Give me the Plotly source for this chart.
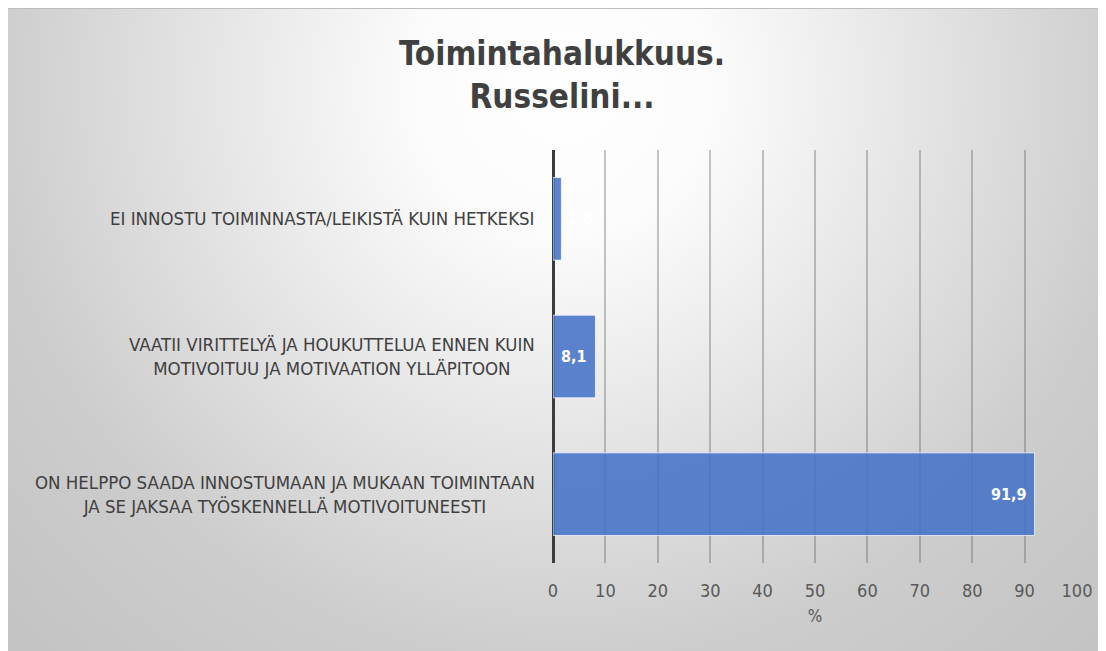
import plotly.graph_objects as go
import urllib.parse

categories = [
    "ON HELPPO SAADA INNOSTUMAAN JA MUKAAN TOIMINTAAN<br>JA SE JAKSAA TYÖSKENNELLÄ MOTIVOITUNEESTI",
    "VAATII VIRITTELYÄ JA HOUKUTTELUA ENNEN KUIN<br>MOTIVOITUU JA MOTIVAATION YLLÄPITOON",
    "EI INNOSTU TOIMINNASTA/LEIKISTÄ KUIN HETKEKSI",
]
values = [91.9, 8.1, 1.6]
value_labels = ["91,9", "8,1", "1,6"]
x_ticks = [0, 10, 20, 30, 40, 50, 60, 70, 80, 90, 100]
title_lines = ["Toimintahalukkuus.", "Russelini..."]
x_title = "%"

W, H = 1106, 651
ML, MR, MT, MB = 545, 37, 142, 96
PW = W - ML - MR
PH = H - MT - MB

FONT = "Liberation Sans Narrow, DejaVu Sans Condensed, Arial Narrow, sans-serif"

svg = (
    '<svg xmlns="http://www.w3.org/2000/svg" width="1106" height="651" viewBox="0 0 1106 651">'
    '<defs><radialGradient id="g" gradientUnits="userSpaceOnUse" cx="555" cy="80" r="760">'
    '<stop offset="0" stop-color="#ffffff"/>'
    '<stop offset="0.2" stop-color="#fbfbfb"/>'
    '<stop offset="0.75" stop-color="#cdcdcd"/>'
    '<stop offset="1" stop-color="#c4c4c4"/>'
    '</radialGradient></defs>'
    '<rect width="1106" height="651" fill="url(#g)"/>'
    '<line x1="0" y1="0.5" x2="1106" y2="0.5" stroke="#bdbdbd" stroke-width="1"/>'
    '</svg>'
)
src = "data:image/svg+xml;charset=utf-8," + urllib.parse.quote(svg)

fig = go.Figure()
fig.add_trace(go.Bar(
    y=categories, x=values, orientation="h",
    marker=dict(color="rgba(70,115,199,0.88)", line=dict(color="rgba(255,255,255,0.7)", width=1)),
    width=0.6, hoverinfo="skip",
))

ann = []
for c, v, lab in zip(categories, values, value_labels):
    inside = v > 5
    ann.append(dict(
        x=v, y=c, xref="x", yref="y", text="<b>%s</b>" % lab, showarrow=False,
        xanchor="right" if inside else "left", xshift=-6 if inside else 5,
        font=dict(family=FONT, size=16, color="#ffffff"),
    ))
    ann.append(dict(
        x=0, y=c, xref="paper", yref="y", text=c, showarrow=False, align="center",
        xanchor="right", xshift=-16,
        font=dict(family=FONT, size=18.5, color="#404040"),
    ))

fig.update_layout(
    width=W, height=H,
    margin=dict(l=ML, r=MR, t=MT, b=MB),
    paper_bgcolor="#ffffff",
    plot_bgcolor="rgba(0,0,0,0)",
    showlegend=False,
    bargap=0.4,
    title=dict(
        text="<b>" + "<br>".join(title_lines) + "</b>",
        x=554 / W, xanchor="center", y=1 - 57 / H, yanchor="middle",
        font=dict(family=FONT, size=33, color="#404040"),
    ),
    images=[dict(
        source=src, xref="paper", yref="paper",
        x=-ML / PW, y=1 + MT / PH,
        sizex=W / PW, sizey=H / PH,
        xanchor="left", yanchor="top", sizing="stretch", layer="below",
    )],
    xaxis=dict(
        range=[0, 100], tickvals=x_ticks, ticktext=[str(t) for t in x_ticks],
        showgrid=True, gridcolor="rgba(90,90,90,0.35)", gridwidth=1.5,
        zeroline=True, zerolinecolor="#3c3c3c", zerolinewidth=2.5,
        showline=False, ticks="", ticklabelstandoff=15,
        tickfont=dict(family=FONT, size=18, color="#595959"),
        title=dict(text=x_title, font=dict(family=FONT, size=17, color="#595959"), standoff=10),
        fixedrange=True,
    ),
    yaxis=dict(
        range=[-0.5, 2.5], showticklabels=False, showgrid=False, zeroline=False,
        showline=False, ticks="", fixedrange=True,
    ),
    annotations=ann,
)

fig.write_html("out.html")
